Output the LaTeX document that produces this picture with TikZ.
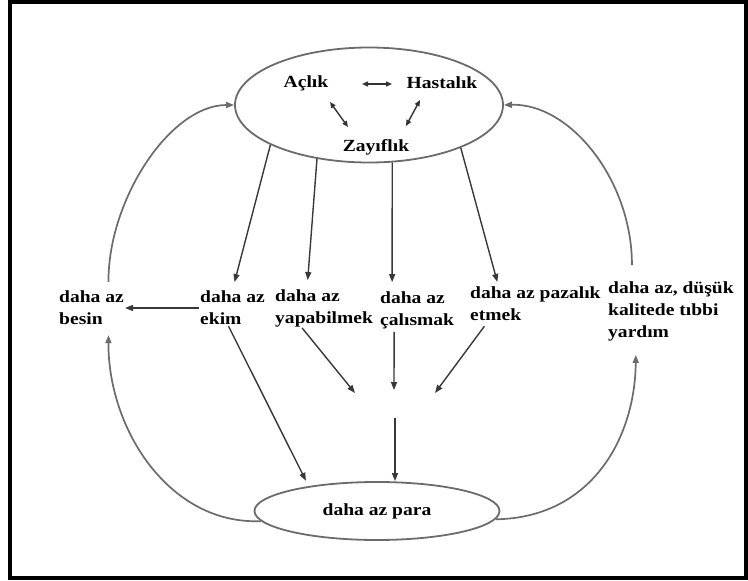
\documentclass[tikz,border=0pt]{standalone}
\usepackage{fontspec}
\setmainfont{Liberation Serif}[FakeStretch=1.15]
\usepackage{tikz}
\usetikzlibrary{shapes.geometric, positioning, arrows.meta}

\begin{document}
\begin{tikzpicture}[
  x=1pt, y=-1pt,
  every node/.style={font=\fontsize{17}{22}\selectfont\bfseries, inner sep=1pt},
  lbl/.style={align=left, anchor=west},
  loop/.style={
    ellipse, draw=black!58, line width=1.8pt, inner sep=0pt,
  },
  arr/.style={-{Triangle[length=8pt,width=6pt]}, line width=1.4pt, draw=black!78},
  dbl/.style={{Triangle[length=6pt,width=5pt]}-{Triangle[length=6pt,width=5pt]}, line width=1.4pt, draw=black!80},
  back/.style={-{Triangle[length=8pt,width=6pt]}, line width=1.7pt, draw=black!58},
]

\useasboundingbox (0,0) rectangle (748,581);
\draw[line width=4pt] (10,2) rectangle (746,578);

% ---- Top ellipse ----
\node[loop, minimum width=268pt, minimum height=115pt] (state) at (369,105) {};
\node (acl) at (306,83)  {Açlık};
\node (has) at (442,83)  {Hastalık};
\node (zay) at (376,147) {Zayıflık};

\draw[dbl] ([shift={(56,1)}]acl.center) -- ([shift={(-50,1)}]has.center);
\draw[dbl] ([shift={(24,19)}]acl.center) -- ([shift={(-28,-20)}]zay.center);
\draw[dbl] ([shift={(-22,17)}]has.center) -- ([shift={(30,-21)}]zay.center);

% ---- Effects ----
\node[lbl] (besin) at (58,308)  {daha az\\besin};
\node[lbl] (ekim)  at (199,308) {daha az\\ekim};
\node[lbl] (yap)   at (274,308) {daha az\\yapabilmek};
\node[lbl] (cal)   at (379,310) {daha az\\çalısmak};
\node[lbl] (paz)   at (469,304) {daha az pazalık\\etmek};
\node[lbl] (tibbi) at (607,311) {daha az, düşük\\kalitede tıbbi\\yardım};

% ---- Bottom ellipse ----
\node[loop, minimum width=245pt, minimum height=58pt] (para) at (377,511) {daha az para};

% free ends in the middle
\coordinate (mL) at (355,393);
\coordinate (mC) at (394,390);
\coordinate (mR) at (435,393);
\coordinate (mD) at (395,418);

% ---- Straight arrows ----
\draw[arr, shorten >=8pt] (state.202) -- (ekim.north);
\draw[arr, shorten >=8pt] (state.226) -- ([xshift=-17pt]yap.north);
\draw[arr, shorten >=8pt] (state.292) -- ([xshift=-25pt]cal.north);
\draw[arr, shorten >=4pt] (state.335) -- ([xshift=-37pt]paz.north);

\draw[arr] (ekim) -- (besin);
\draw[arr, shorten >=6pt] ([xshift=-4pt]ekim.south) -- (para.160);

\draw[arr] ([xshift=-22pt]yap.south) -- (mL);
\draw[arr, shorten <=2pt] ([xshift=-23pt]cal.south) -- (mC);
\draw[arr, shorten <=5pt] ([xshift=-48pt]paz.south) -- (mR);
\draw[arr] (mD) -- (mD |- para.north);

% ---- Curved feedback ----
\draw[back, shorten <=8pt] ([xshift=17pt]besin.north) .. controls (108,200) and (170,105) .. (state.west);
\draw[back, shorten <=15pt] ([xshift=-39pt]tibbi.north) .. controls (632,180) and (570,103) .. (state.east);
\draw[back, shorten >=9pt] (para.185) .. controls (170,525) and (108,430) .. ([xshift=17pt]besin.south);
\draw[back, shorten >=13pt] (para.-4) .. controls (590,518) and (635,440) .. ([xshift=-35pt]tibbi.south);

\end{tikzpicture}
\end{document}
